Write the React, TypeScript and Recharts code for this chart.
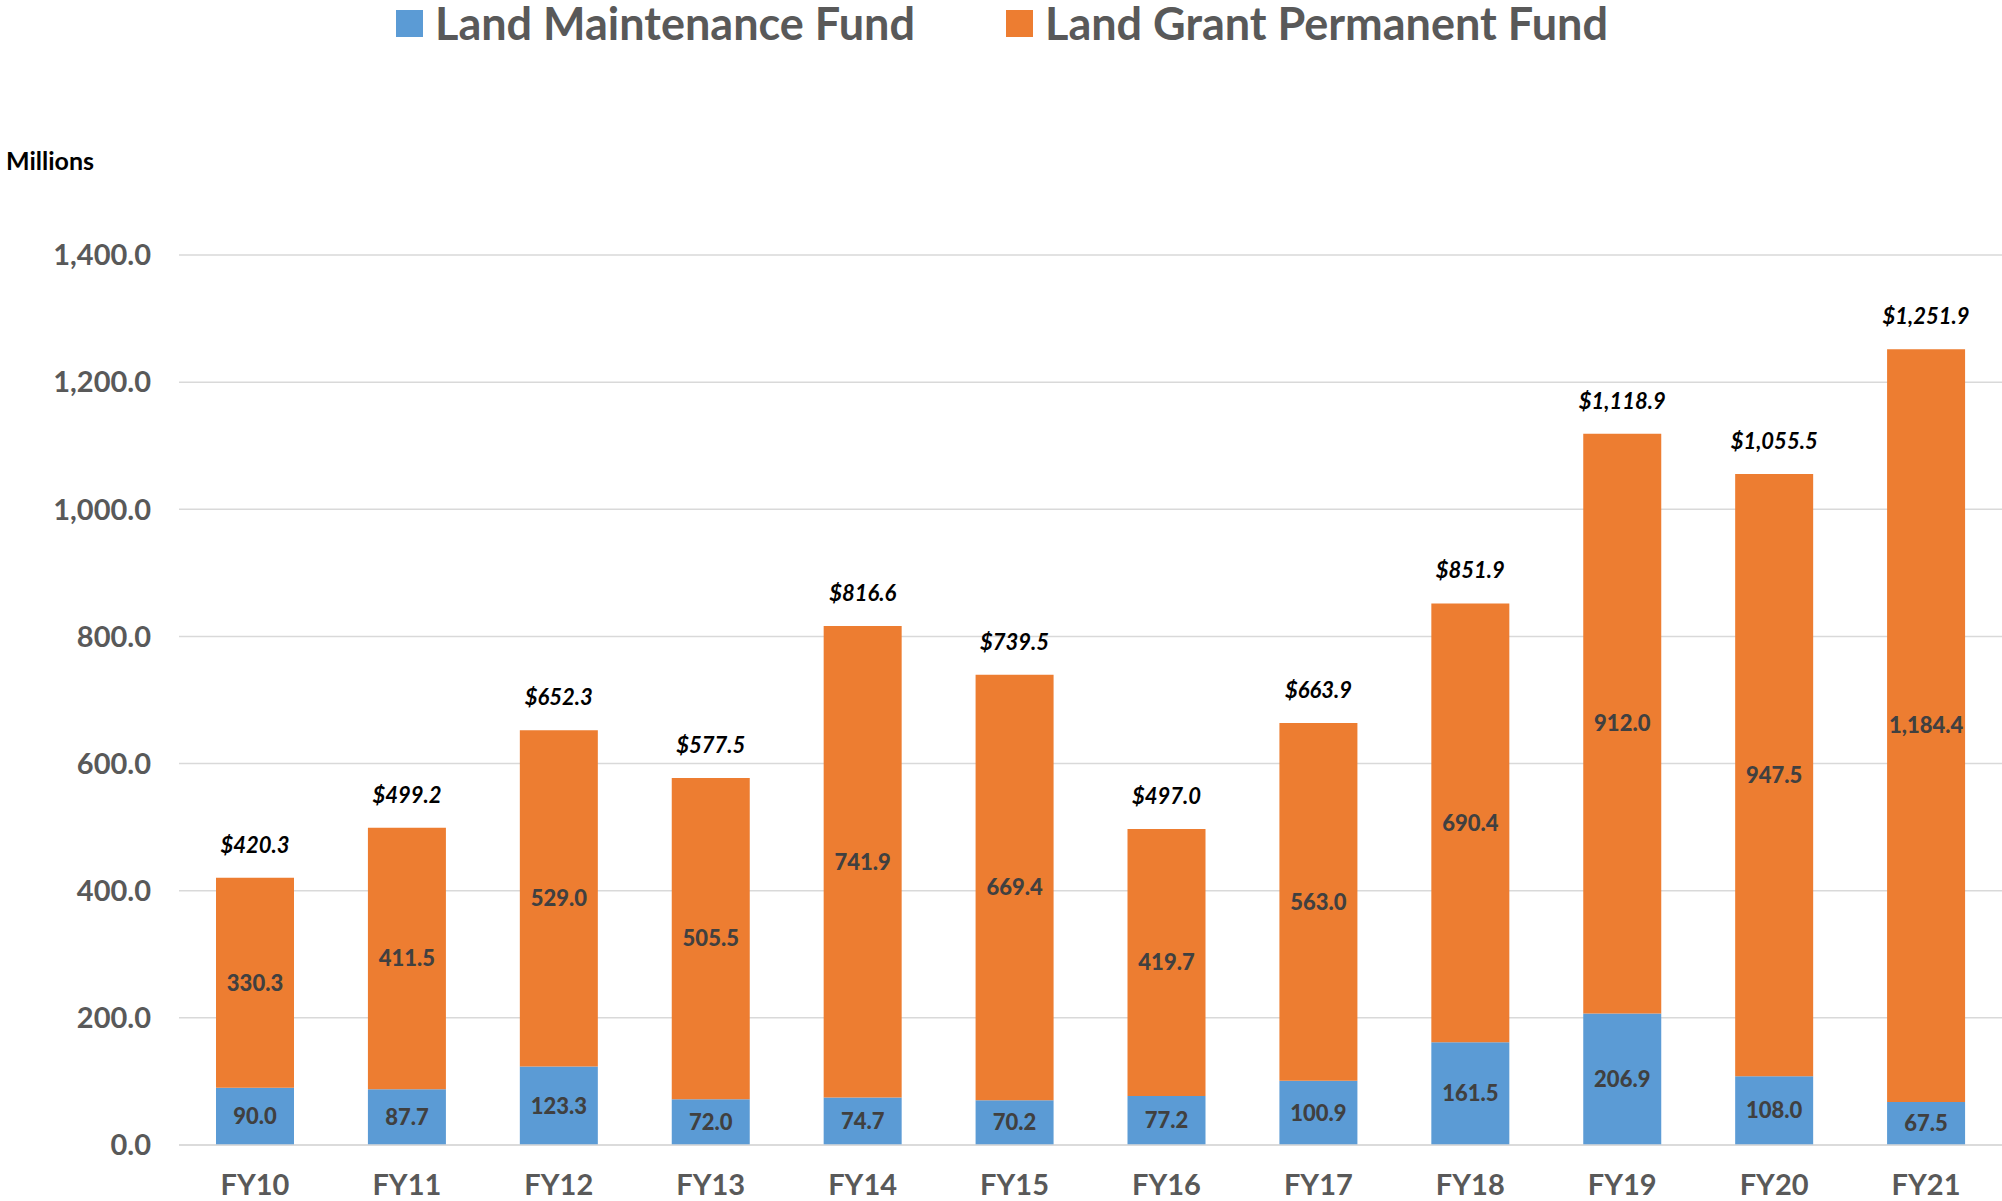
import { BarChart, Bar, XAxis, YAxis, CartesianGrid, LabelList } from 'recharts'

const YEARS = ['FY10', 'FY11', 'FY12', 'FY13', 'FY14', 'FY15', 'FY16', 'FY17', 'FY18', 'FY19', 'FY20', 'FY21']
const MAINTENANCE = [90.0, 87.7, 123.3, 72.0, 74.7, 70.2, 77.2, 100.9, 161.5, 206.9, 108.0, 67.5]
const PERMANENT = [330.3, 411.5, 529.0, 505.5, 741.9, 669.4, 419.7, 563.0, 690.4, 912.0, 947.5, 1184.4]
const TOTALS = [420.3, 499.2, 652.3, 577.5, 816.6, 739.5, 497.0, 663.9, 851.9, 1118.9, 1055.5, 1251.9]
const Y_TICKS = [0, 200, 400, 600, 800, 1000, 1200, 1400]

const BLUE = '#5B9BD5'
const ORANGE = '#ED7D31'
const FONT = 'Lato, "Open Sans", sans-serif'

const fmt = (v: number) =>
  v.toLocaleString('en-US', { minimumFractionDigits: 1, maximumFractionDigits: 1 })

const data = YEARS.map((year, i) => ({
  year,
  lmf: MAINTENANCE[i],
  lgpf: PERMANENT[i],
  total: TOTALS[i],
}))

function LegendItem({ color, label, left }: { color: string; label: string; left: number }) {
  return (
    <div style={{ position: 'absolute', left, top: 0, height: 46, display: 'flex', alignItems: 'center' }}>
      <div style={{ width: 27, height: 27, background: color, marginRight: 12 }} />
      <span style={{ fontFamily: FONT, fontWeight: 700, fontSize: 45, color: '#595959' }}>{label}</span>
    </div>
  )
}

export default function App() {
  return (
    <div style={{ position: 'relative', width: 2002, height: 1201, background: '#fff' }}>
      <style>{'body { margin: 0; }'}</style>
      <LegendItem color={BLUE} label="Land Maintenance Fund" left={396} />
      <LegendItem color={ORANGE} label="Land Grant Permanent Fund" left={1006} />
      <div
        style={{
          position: 'absolute', left: 6, top: 145, fontFamily: FONT, fontWeight: 700,
          fontSize: 25, color: '#000',
        }}
      >
        Millions
      </div>
      <BarChart
        width={2002}
        height={1201}
        data={data}
        margin={{ top: 255, right: 0, bottom: 6, left: 0 }}
        barSize={78}
      >
        <CartesianGrid vertical={false} stroke="#D9D9D9" strokeWidth={1.5} />
        <XAxis
          dataKey="year"
          height={50}
          tickLine={false}
          tickSize={0}
          tickMargin={29}
          axisLine={{ stroke: '#D9D9D9', strokeWidth: 1.5 }}
          tick={{ fill: '#595959', fontSize: 29, fontWeight: 700, fontFamily: FONT }}
          interval={0}
        />
        <YAxis
          width={179}
          domain={[0, 1400]}
          ticks={Y_TICKS}
          tickFormatter={fmt}
          axisLine={false}
          tickLine={false}
          tickSize={0}
          tickMargin={28}
          tick={{ fill: '#595959', fontSize: 29, fontWeight: 700, fontFamily: FONT }}
        />
        <Bar dataKey="lmf" stackId="a" fill={BLUE} isAnimationActive={false}>
          <LabelList
            dataKey="lmf"
            position="center"
            formatter={(v: number) => fmt(v)}
            style={{ fill: '#404040', fontSize: 22, fontWeight: 900, fontFamily: FONT }}
          />
        </Bar>
        <Bar dataKey="lgpf" stackId="a" fill={ORANGE} isAnimationActive={false}>
          <LabelList
            dataKey="lgpf"
            position="center"
            formatter={(v: number) => fmt(v)}
            style={{ fill: '#404040', fontSize: 22, fontWeight: 900, fontFamily: FONT }}
          />
          <LabelList
            dataKey="total"
            position="top"
            offset={25}
            formatter={(v: number) => '$' + fmt(v)}
            style={{ fill: '#000', fontSize: 22, fontWeight: 700, fontStyle: 'italic', fontFamily: FONT }}
          />
        </Bar>
      </BarChart>
    </div>
  )
}
